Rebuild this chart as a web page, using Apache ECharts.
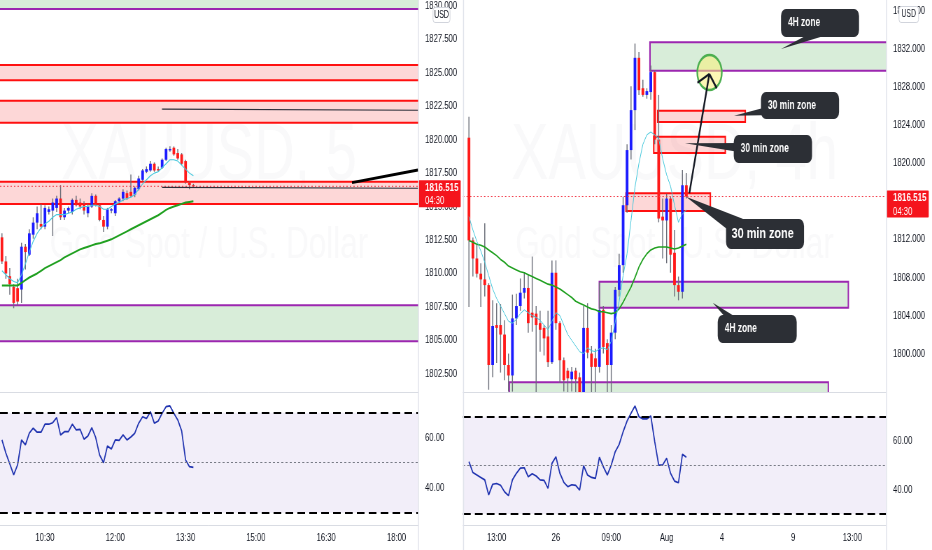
<!DOCTYPE html>
<html><head><meta charset="utf-8"><title>XAUUSD</title>
<script src="https://cdn.jsdelivr.net/npm/echarts@6.0.0/dist/echarts.min.js"></script>
<style>
html,body{margin:0;padding:0;background:#fff;overflow:hidden;width:932px;height:550px}
#wrap{width:932px;height:550px;overflow:hidden;position:relative;background:#fff}
#c{width:1332px;height:550px;transform:scaleX(0.6997);transform-origin:0 0;position:absolute;left:0;top:0}
</style></head>
<body><div id="wrap"><div id="c"></div></div>
<script>
// ---------------- DATA ----------------
const leftBarCount = 107;
const rightBarCount = 107;
const leftTimeTicks = [[11,'10:30'],[29,'12:00'],[47,'13:30'],[65,'15:00'],[83,'16:30'],[101,'18:00']];
const rightTimeTicks = [[8,'13:00'],[23,'26'],[37,'09:00'],[51,'Aug'],[65,'4'],[83,'9'],[98,'13:00']];
const leftPriceTicks = [1802.5,1805,1807.5,1810,1812.5,1815,1817.5,1820,1822.5,1825,1827.5,1830];
const rightPriceTicks = [1800,1804,1808,1812,1820,1824,1828,1832,1836];
const rsiTicks = [40,60];
const lastPrice = 1816.515;
const badgeTimes = ['04:30','03:19:30'];

// left (5 min) candles: [open, high, low, close]
const leftOHLC = [
[1812.7,1813.0,1810.7,1810.9],[1810.9,1811.3,1809.6,1810.0],[1809.8,1810.4,1808.4,1809.2],[1809.0,1809.2,1807.4,1807.8],
[1808.9,1809.6,1807.6,1807.9],[1808.8,1812.3,1807.8,1812.0],[1812.0,1812.2,1810.3,1811.6],[1811.4,1813.3,1811.3,1813.0],
[1812.9,1814.2,1812.6,1813.8],[1813.8,1815.0,1813.3,1814.5],[1813.7,1815.2,1813.3,1813.5],[1813.5,1815.1,1813.3,1814.9],
[1814.6,1815.0,1814.4,1814.8],[1814.7,1815.6,1812.8,1815.3],[1814.9,1815.8,1814.6,1815.6],[1815.6,1816.6,1814.0,1814.2],
[1814.2,1814.9,1814.0,1814.7],[1814.7,1815.0,1814.5,1814.9],[1814.6,1815.6,1814.4,1815.5],[1815.5,1815.8,1815.0,1815.1],
[1815.3,1815.6,1814.8,1815.0],[1815.2,1815.4,1814.4,1814.7],[1814.5,1815.2,1814.2,1815.0],[1815.0,1816.0,1814.9,1815.8],
[1815.8,1815.9,1815.0,1815.1],[1815.1,1815.2,1813.9,1814.0],[1814.0,1814.3,1813.1,1813.5],[1813.5,1814.9,1813.3,1814.8],
[1814.7,1814.9,1814.5,1814.8],[1814.5,1815.5,1814.3,1815.4],[1815.4,1815.7,1815.3,1815.6],[1815.6,1816.3,1815.4,1816.1],
[1816.0,1816.2,1815.5,1815.6],[1816.1,1817.4,1815.7,1815.8],[1815.9,1816.5,1815.7,1816.4],[1816.3,1817.3,1816.2,1817.1],
[1817.0,1817.8,1816.9,1817.7],[1817.6,1818.0,1817.5,1817.8],[1817.7,1818.4,1817.6,1818.2],[1818.2,1818.3,1817.6,1817.7],
[1817.8,1818.0,1817.6,1817.7],[1817.9,1818.6,1817.8,1818.5],[1818.5,1819.4,1818.4,1819.3],[1819.2,1819.5,1819.1,1819.3],
[1819.4,1819.5,1818.8,1818.9],[1819.0,1819.3,1818.5,1818.6],[1818.9,1819.0,1818.1,1818.2],[1818.4,1818.5,1816.7,1816.8],
[1816.8,1816.9,1816.3,1816.6],[1816.6,1816.7,1816.4,1816.515]
];
const leftEmaFast = [1810.2,1809.9,1809.6,1809.4,1809.3,1809.9,1810.7,1811.6,1812.4,1813.0,1813.4,1813.7,1813.9,1814.2,1814.4,1814.4,1814.4,1814.5,1814.6,1814.8,1814.9,1815.0,1815.0,1815.1,1815.1,1815.0,1814.8,1814.8,1815.0,1815.2,1815.3,1815.5,1815.6,1815.7,1815.9,1816.3,1816.7,1817.0,1817.3,1817.5,1817.6,1817.9,1818.2,1818.5,1818.5,1818.4,1818.1,1817.8,1817.5,1817.3];
const leftEmaSlow = [1809.1,1809.1,1809.1,1809.1,1809.1,1809.3,1809.5,1809.7,1809.85,1810.0,1810.2,1810.4,1810.55,1810.7,1810.85,1811.0,1811.2,1811.35,1811.5,1811.65,1811.8,1811.9,1812.0,1812.1,1812.2,1812.25,1812.35,1812.45,1812.55,1812.7,1812.85,1813.0,1813.15,1813.3,1813.45,1813.6,1813.75,1813.9,1814.05,1814.2,1814.35,1814.55,1814.75,1814.9,1815.0,1815.1,1815.2,1815.3,1815.35,1815.4];
const leftRsi = [59.1,53.8,49.5,45.1,49.1,59.1,57.1,61.8,63.8,62.2,62.2,65.4,65.4,66.0,68.0,61.1,62.4,62.4,65.4,63.1,63.3,59.4,60.7,64.0,60.0,53.1,50.0,56.7,55.5,59.1,58.9,61.1,59.1,60.3,61.8,65.8,68.4,67.7,70.4,65.8,66.7,69.8,72.4,72.7,69.8,67.1,62.7,51.1,48.4,48.1];

// right (4h) candles: [open, high, low, close]; index 0 empty
const rightOHLC = [
null,
[1822.7,1824.9,1804.9,1811.9],[1811.9,1812.2,1808.1,1810.0],[1810.0,1811.5,1808.0,1808.4],[1808.4,1809.5,1804.9,1807.8],
[1807.8,1813.7,1806.0,1807.2],[1807.2,1807.4,1796.2,1798.8],[1798.8,1805.6,1797.5,1802.9],[1803.0,1805.3,1799.0,1802.7],
[1803.0,1805.2,1798.0,1802.0],[1802.0,1803.5,1797.2,1798.8],[1798.8,1800.0,1796.0,1797.7],[1797.7,1806.2,1796.0,1803.7],
[1803.7,1806.3,1803.0,1805.0],[1805.0,1807.9,1804.5,1806.4],[1806.4,1808.5,1805.8,1806.9],[1806.9,1808.3,1802.2,1803.2],
[1804.3,1810.2,1802.3,1803.8],[1804.2,1805.0,1795.8,1803.0],[1803.2,1804.5,1800.2,1802.5],[1802.7,1803.0,1799.8,1801.6],
[1801.8,1804.5,1798.6,1799.1],[1799.1,1809.8,1798.9,1808.5],[1808.5,1809.8,1802.5,1803.2],[1803.2,1803.4,1796.9,1799.3],
[1799.3,1799.6,1796.0,1797.2],[1798.2,1798.5,1795.5,1797.4],[1797.3,1798.6,1796.0,1798.1],[1798.2,1798.5,1795.8,1797.3],
[1797.5,1798.0,1794.0,1795.5],[1795.5,1805.0,1794.0,1802.7],[1802.7,1805.3,1799.5,1800.1],[1800.0,1800.8,1795.0,1798.6],
[1799.5,1800.5,1795.5,1798.6],[1798.6,1807.5,1798.0,1804.6],[1804.6,1805.0,1800.0,1800.7],[1801.1,1801.5,1795.5,1798.8],
[1798.8,1803.0,1795.0,1802.2],[1802.2,1807.0,1801.5,1806.7],[1806.7,1810.5,1806.0,1809.3],[1809.3,1816.5,1808.5,1815.6],
[1815.6,1822.0,1814.8,1821.4],[1821.4,1828.1,1820.4,1825.6],[1825.6,1832.6,1823.5,1831.1],[1831.1,1831.7,1827.2,1827.7],
[1827.9,1828.8,1827.0,1827.2],[1827.2,1827.9,1826.8,1827.6],[1827.5,1830.3,1826.7,1829.6],[1829.6,1829.8,1822.0,1822.5],
[1822.5,1827.2,1813.8,1814.2],[1814.4,1816.3,1810.0,1814.0],[1814.0,1816.8,1809.5,1816.3],[1816.3,1816.5,1808.5,1810.4],
[1810.6,1813.0,1806.0,1807.2],[1807.2,1808.1,1805.6,1806.5],[1806.5,1819.3,1805.8,1817.7],[1817.7,1819.0,1816.3,1816.515]
];
const rightEmaFast = [null,1814.4,1813.0,1811.8,1810.8,1809.6,1808.2,1806.8,1805.8,1805.0,1804.2,1803.4,1803.2,1803.6,1804.2,1804.6,1804.3,1804.0,1803.8,1803.5,1803.0,1802.5,1803.4,1804.3,1804.0,1803.0,1802.0,1801.4,1800.8,1800.2,1800.0,1800.6,1800.3,1800.2,1800.5,1800.6,1800.4,1801.3,1803.3,1805.5,1808.2,1810.5,1814.0,1817.5,1820.0,1822.0,1823.0,1823.3,1823.0,1822.6,1820.5,1818.8,1817.6,1815.6,1813.8,1814.7,1815.1];
const rightEmaSlow = [null,1811.9,1811.7,1811.5,1811.4,1811.2,1810.9,1810.6,1810.3,1809.9,1809.6,1809.2,1809.0,1808.8,1808.6,1808.5,1808.3,1808.1,1807.9,1807.7,1807.5,1807.3,1807.2,1807.0,1806.8,1806.5,1806.2,1805.9,1805.5,1805.3,1805.1,1804.9,1804.7,1804.6,1804.4,1804.4,1804.3,1804.2,1804.3,1804.7,1805.4,1806.2,1807.0,1808.0,1809.1,1809.9,1810.5,1810.9,1811.1,1811.2,1811.2,1811.2,1811.1,1811.0,1811.1,1811.3,1811.5];
const rightRsi = [null,51.5,47.0,46.0,45.0,44.0,37.8,42.2,42.5,41.8,39.1,37.5,44.0,46.7,48.8,49.0,45.3,46.5,45.6,44.0,43.8,40.5,50.8,53.5,46.7,43.0,41.2,42.0,41.7,39.8,49.8,46.0,45.0,44.6,53.3,49.4,46.0,50.1,55.6,58.6,63.8,68.2,71.4,74.4,70.0,69.1,69.1,70.3,59.7,50.1,50.1,52.9,46.7,43.5,42.8,54.5,53.3];

// zones: [barFrom, barTo, priceTop, priceBottom, kind(0 = red 30min, 1 = green 4H)]
const leftZones = [[-5,120,1835,1829.77,1],[-5,120,1825.58,1824.44,0],[-5,120,1822.91,1821.27,0],[-5,120,1816.86,1815.2,0],[-5,120,1807.62,1804.93,1]];
const rightZones = [[46.8,120,1832.73,1829.75,1],[48.75,70.9,1825.54,1824.35,0],[47.74,65.85,1822.8,1821.1,0],[40.73,62.06,1816.85,1815.0,0],[33.98,96.97,1807.56,1804.83,1],[11.21,91.91,1796.98,1790,1]];
// drawn lines: [bar1, price1, bar2, price2, kind]
const leftLines = [[-0.5,lastPrice,106.5,lastPrice,0],[40.97,1822.29,106.5,1822.2,1],[40.97,1816.44,106.5,1816.37,1],[89.6,1816.79,106.5,1817.73,2]];
const rightLines = [[-0.5,lastPrice,106.5,lastPrice,0],[56.75,1816.85,61.81,1829.4,3],[61.81,1829.4,58.8,1828.48,3],[61.81,1829.4,63.68,1827.9,3]];
const rightTarget = [[61.86,1829.56]];
// callouts: [tipBar, tipPrice, baseBar, basePrice, boxBar0, boxPriceTop, boxBar1, boxPriceBottom, big]
const calloutTexts = ['4H zone','30 min zone','30 min zone','30 min zone','4H zone'];
const callouts = [
[79.94,1832.03,91.33,1834.0,79.94,1836.23,99.68,1833.29,0],
[68.05,1825.01,78.36,1825.61,74.88,1827.51,94.62,1824.67,0],
[55.66,1822.11,70.95,1821.62,67.98,1822.98,87.79,1820.04,0],
[55.91,1816.5,69.57,1813.2,66.03,1814.15,85.76,1811.0,1],
[62.67,1805.35,68.31,1803.32,63.93,1804.06,83.91,1801.11,0]
];

// ---------------- LAYOUT / STYLE ----------------
const S = 932 / 1332;
const px = x => x / S;
const FONT = '"Liberation Sans", Arial, sans-serif';
const UP = '#1c1cff', DOWN = '#ff1a1a', WICK = '#6a6d78', BOX = '#2c2f35';
const TXT = '#131722';
const WM = 'rgba(42,46,57,0.028)';
const LINE_STYLES = [
  {stroke:'#f23645', lineWidth:1, lineDash:[2,3]},
  {stroke:'#2a2e39', lineWidth:1.2},
  {stroke:'#000000', lineWidth:3},
  {stroke:'#131722', lineWidth:2.4}
];

const leftCats = Array.from({length:leftBarCount}, (_, i) => String(i));
const rightCats = Array.from({length:rightBarCount}, (_, i) => String(i));
const leftTickMap = new Map(leftTimeTicks);
const rightTickMap = new Map(rightTimeTicks);

function candleItems(ohlc) {
  const out = [];
  ohlc.forEach((d, i) => { if (d) out.push([i, d[0], d[1], d[2], d[3]]); });
  return out;
}

function renderCandle(params, api) {
  const i = api.value(0), o = api.value(1), h = api.value(2), l = api.value(3), c = api.value(4);
  const ph = api.coord([i, h]), pl = api.coord([i, l]), po = api.coord([i, o]), pc = api.coord([i, c]);
  const bw = api.size([1, 0])[0] * 0.68;
  const top = Math.min(po[1], pc[1]);
  const hgt = Math.max(1, Math.abs(po[1] - pc[1]));
  const col = c >= o ? UP : DOWN;
  return {type:'group', children:[
    {type:'line', shape:{x1:ph[0], y1:ph[1], x2:pl[0], y2:pl[1]}, style:{stroke:WICK, lineWidth:1.4}},
    {type:'rect', shape:{x:po[0] - bw / 2, y:top, width:bw, height:hgt}, style:{fill:col}}
  ]};
}

function renderZone(params, api) {
  const a = api.coord([api.value(0), api.value(2)]);
  const b = api.coord([api.value(1), api.value(3)]);
  const green = api.value(4) === 1;
  return {type:'rect',
    shape:{x:Math.min(a[0], b[0]), y:Math.min(a[1], b[1]), width:Math.abs(b[0] - a[0]), height:Math.abs(b[1] - a[1])},
    style:{fill: green ? 'rgba(76,175,80,0.22)' : 'rgba(244,54,54,0.2)', stroke: green ? '#9c27b0' : '#ff1010', lineWidth:2}};
}

function renderLine(params, api) {
  const a = api.coord([api.value(0), api.value(1)]);
  const b = api.coord([api.value(2), api.value(3)]);
  return {type:'line', shape:{x1:a[0], y1:a[1], x2:b[0], y2:b[1]}, style:LINE_STYLES[api.value(4)]};
}

function renderTarget(params, api) {
  const p = api.coord([api.value(0), api.value(1)]);
  return {type:'circle', shape:{cx:p[0], cy:p[1], r:17.5}, style:{fill:'rgba(250,240,120,0.55)', stroke:'#4caf50', lineWidth:2.4}};
}

function renderCallout(params, api) {
  const tip = api.coord([api.value(0), api.value(1)]);
  const base = api.coord([api.value(2), api.value(3)]);
  const a = api.coord([api.value(4), api.value(5)]);
  const b = api.coord([api.value(6), api.value(7)]);
  const big = api.value(8) === 1;
  const dx = base[0] - tip[0], dy = base[1] - tip[1];
  const L = Math.hypot(dx, dy) || 1;
  const hw = big ? 10 : 5;
  const nx = -dy / L * hw, ny = dx / L * hw;
  return {type:'group', children:[
    {type:'polygon', shape:{points:[[tip[0], tip[1]], [base[0] + nx, base[1] + ny], [base[0] - nx, base[1] - ny]]}, style:{fill:BOX}},
    {type:'rect', shape:{x:a[0], y:a[1], width:b[0] - a[0], height:b[1] - a[1], r:7}, style:{fill:BOX}},
    {type:'text', style:{text:calloutTexts[params.dataIndex], x:a[0] + (big ? 8 : 10), y:(a[1] + b[1]) / 2,
      fill:'#ffffff', fontSize: big ? 15.5 : 12, fontWeight:'bold', fontFamily:FONT, align:'left', verticalAlign:'middle'}}
  ]};
}

function renderBadge(params, api) {
  const p = api.coord([api.value(0), api.value(1)]);
  const x = p[0] + 1, y = p[1] - 6;
  return {type:'group', children:[
    {type:'rect', shape:{x:x, y:y, width:60, height:27, r:1}, style:{fill:'#f5141c'}},
    {type:'text', style:{text:lastPrice.toFixed(3), x:x + 9, y:p[1] + 1.5, fill:'#fff', fontSize:11.5, fontWeight:'bold', fontFamily:FONT, align:'left', verticalAlign:'middle'}},
    {type:'text', style:{text:badgeTimes[params.dataIndex], x:x + 9, y:p[1] + 15, fill:'#fff', fontSize:11, fontFamily:FONT, align:'left', verticalAlign:'middle'}}
  ]};
}

function catAxis(grid, cats, tickMap, showLabels) {
  return {type:'category', gridIndex:grid, data:cats, boundaryGap:true,
    axisLine:{show:true, lineStyle:{color:'#d9dce3', width:1}}, axisTick:{show:false}, splitLine:{show:false},
    axisLabel: showLabels ? {show:true, interval:(i) => tickMap.has(i), formatter:(v, i) => tickMap.get(i) || '',
      color:TXT, fontSize:11, fontFamily:FONT, margin:7} : {show:false}};
}
function overlayAxis(grid, n) {
  return {type:'value', gridIndex:grid, min:-0.5, max:n - 0.5, show:false};
}
function valueAxis(grid, min, max, ticks, dec) {
  return {type:'value', gridIndex:grid, position:'right', min:min, max:max,
    splitLine:{show:false}, axisLine:{show:false}, axisTick:{show:false},
    axisLabel:{customValues:ticks, formatter:(v) => Number(v).toFixed(dec), color:TXT, fontSize:11, fontFamily:FONT, margin:10, align:'left'}};
}
function rsiSeries(xi, yi, data) {
  return {type:'line', xAxisIndex:xi, yAxisIndex:yi, data:data, symbol:'none', z:3,
    lineStyle:{color:'#2033b0', width:1.7},
    markArea:{silent:true, itemStyle:{color:'rgba(126,87,194,0.1)'}, data:[[{yAxis:30}, {yAxis:70}]]},
    markLine:{silent:true, symbol:'none', label:{show:false}, data:[
      {yAxis:70, lineStyle:{color:'#000', width:2, type:[11, 6]}},
      {yAxis:30, lineStyle:{color:'#000', width:2, type:[11, 6]}},
      {yAxis:50, lineStyle:{color:'#787b86', width:1, type:[3, 3]}}
    ]}};
}

const GL = {l:0, w:px(418)}, GR = {l:px(463), w:px(423)};
const option = {
  animation:false,
  backgroundColor:'#ffffff',
  textStyle:{fontFamily:FONT},
  grid:[
    {left:GL.l, top:0, width:GL.w, height:392, outerBoundsMode:'none'},
    {left:GL.l, top:395, width:GL.w, height:130, outerBoundsMode:'none'},
    {left:GR.l, top:0, width:GR.w, height:392, outerBoundsMode:'none'},
    {left:GR.l, top:395, width:GR.w, height:130, outerBoundsMode:'none'}
  ],
  xAxis:[
    catAxis(0, leftCats, leftTickMap, false),
    overlayAxis(0, leftBarCount),
    catAxis(1, leftCats, leftTickMap, true),
    catAxis(2, rightCats, rightTickMap, false),
    overlayAxis(2, rightBarCount),
    catAxis(3, rightCats, rightTickMap, true)
  ],
  yAxis:[
    valueAxis(0, 1801.14, 1830.44, leftPriceTicks, 3),
    valueAxis(1, 25.08, 77.08, rsiTicks, 2),
    valueAxis(2, 1795.96, 1837.18, rightPriceTicks, 3),
    valueAxis(3, 25.43, 78.93, rsiTicks, 2)
  ],
  graphic:[
    {type:'text', z:0, x:px(209), y:157, style:{text:'XAUUSD, 5', fill:WM, font:'80px "Liberation Sans"', align:'center', verticalAlign:'middle', textAlign:'center', textVerticalAlign:'middle'}},
    {type:'text', z:0, x:px(209), y:246, style:{text:'Gold Spot / U.S. Dollar', fill:WM, font:'45px "Liberation Sans"', align:'center', verticalAlign:'middle', textAlign:'center', textVerticalAlign:'middle'}},
    {type:'text', z:0, x:px(674.5), y:157, style:{text:'XAUUSD, 4h', fill:WM, font:'80px "Liberation Sans"', align:'center', verticalAlign:'middle', textAlign:'center', textVerticalAlign:'middle'}},
    {type:'text', z:0, x:px(674.5), y:246, style:{text:'Gold Spot / U.S. Dollar', fill:WM, font:'45px "Liberation Sans"', align:'center', verticalAlign:'middle', textAlign:'center', textVerticalAlign:'middle'}},
    {type:'line', z:50, shape:{x1:px(418.5), y1:0, x2:px(418.5), y2:550}, style:{stroke:'#e0e3eb', lineWidth:1.4}},
    {type:'line', z:50, shape:{x1:px(463.5), y1:0, x2:px(463.5), y2:550}, style:{stroke:'#e0e3eb', lineWidth:1.4}},
    {type:'line', z:50, shape:{x1:px(886.5), y1:0, x2:px(886.5), y2:550}, style:{stroke:'#e0e3eb', lineWidth:1.4}},
    {type:'rect', z:100, shape:{x:px(433), y:7.5, width:px(17), height:15, r:3}, style:{fill:'#fff', stroke:'#d1d4dc', lineWidth:1}},
    {type:'text', z:101, x:px(441.5), y:15, style:{text:'USD', fill:TXT, font:'10px "Liberation Sans"', align:'center', verticalAlign:'middle', textAlign:'center', textVerticalAlign:'middle'}},
    {type:'rect', z:100, shape:{x:px(899), y:6.5, width:px(19.5), height:16, r:3}, style:{fill:'#fff', stroke:'#d1d4dc', lineWidth:1}},
    {type:'text', z:101, x:px(908.7), y:14.5, style:{text:'USD', fill:TXT, font:'10px "Liberation Sans"', align:'center', verticalAlign:'middle', textAlign:'center', textVerticalAlign:'middle'}}
  ],
  series:[
    // left main
    {type:'custom', name:'leftZones', xAxisIndex:1, yAxisIndex:0, clip:true, z:1, renderItem:renderZone, data:leftZones, encode:{x:[0,1], y:[2,3]}},
    {type:'custom', name:'leftCandles', xAxisIndex:0, yAxisIndex:0, clip:true, z:2, renderItem:renderCandle, data:candleItems(leftOHLC), encode:{x:0, y:[1,2,3,4]}},
    {type:'line', name:'leftSlow', xAxisIndex:0, yAxisIndex:0, data:leftEmaSlow, symbol:'none', z:3, lineStyle:{color:'#20a020', width:2}},
    {type:'line', name:'leftFast', xAxisIndex:0, yAxisIndex:0, data:leftEmaFast, symbol:'none', z:3, lineStyle:{color:'#47c9dd', width:1.1}},
    {type:'custom', name:'leftLines', xAxisIndex:1, yAxisIndex:0, clip:true, z:4, renderItem:renderLine, data:leftLines, encode:{x:[0,2], y:[1,3]}},
    {type:'custom', name:'leftBadge', xAxisIndex:1, yAxisIndex:0, clip:false, z:20, renderItem:renderBadge, data:[[106.5, lastPrice]], encode:{x:0, y:1}},
    rsiSeries(2, 1, leftRsi),
    // right main
    {type:'custom', name:'rightZones', xAxisIndex:4, yAxisIndex:2, clip:true, z:1, renderItem:renderZone, data:rightZones, encode:{x:[0,1], y:[2,3]}},
    {type:'custom', name:'rightCandles', xAxisIndex:3, yAxisIndex:2, clip:true, z:2, renderItem:renderCandle, data:candleItems(rightOHLC), encode:{x:0, y:[1,2,3,4]}},
    {type:'line', name:'rightSlow', xAxisIndex:3, yAxisIndex:2, data:rightEmaSlow, symbol:'none', z:3, lineStyle:{color:'#20a020', width:1.6}},
    {type:'line', name:'rightFast', xAxisIndex:3, yAxisIndex:2, data:rightEmaFast, symbol:'none', z:3, lineStyle:{color:'#47c9dd', width:1}},
    {type:'custom', name:'rightTarget', xAxisIndex:4, yAxisIndex:2, clip:true, z:4, renderItem:renderTarget, data:rightTarget, encode:{x:0, y:1}},
    {type:'custom', name:'rightLines', xAxisIndex:4, yAxisIndex:2, clip:true, z:5, renderItem:renderLine, data:rightLines, encode:{x:[0,2], y:[1,3]}},
    {type:'custom', name:'callouts', xAxisIndex:4, yAxisIndex:2, clip:true, z:6, renderItem:renderCallout, data:callouts, encode:{x:[0,4,6], y:[1,5,7]}},
    {type:'custom', name:'rightBadge', xAxisIndex:4, yAxisIndex:2, clip:false, z:20, renderItem:renderBadge, data:[[106.5, lastPrice]], encode:{x:0, y:1}},
    rsiSeries(5, 3, rightRsi)
  ]
};
const chart = echarts.init(document.getElementById('c'), null, {renderer:'canvas', width:1332, height:550});
chart.setOption(option);
</script></body></html>
